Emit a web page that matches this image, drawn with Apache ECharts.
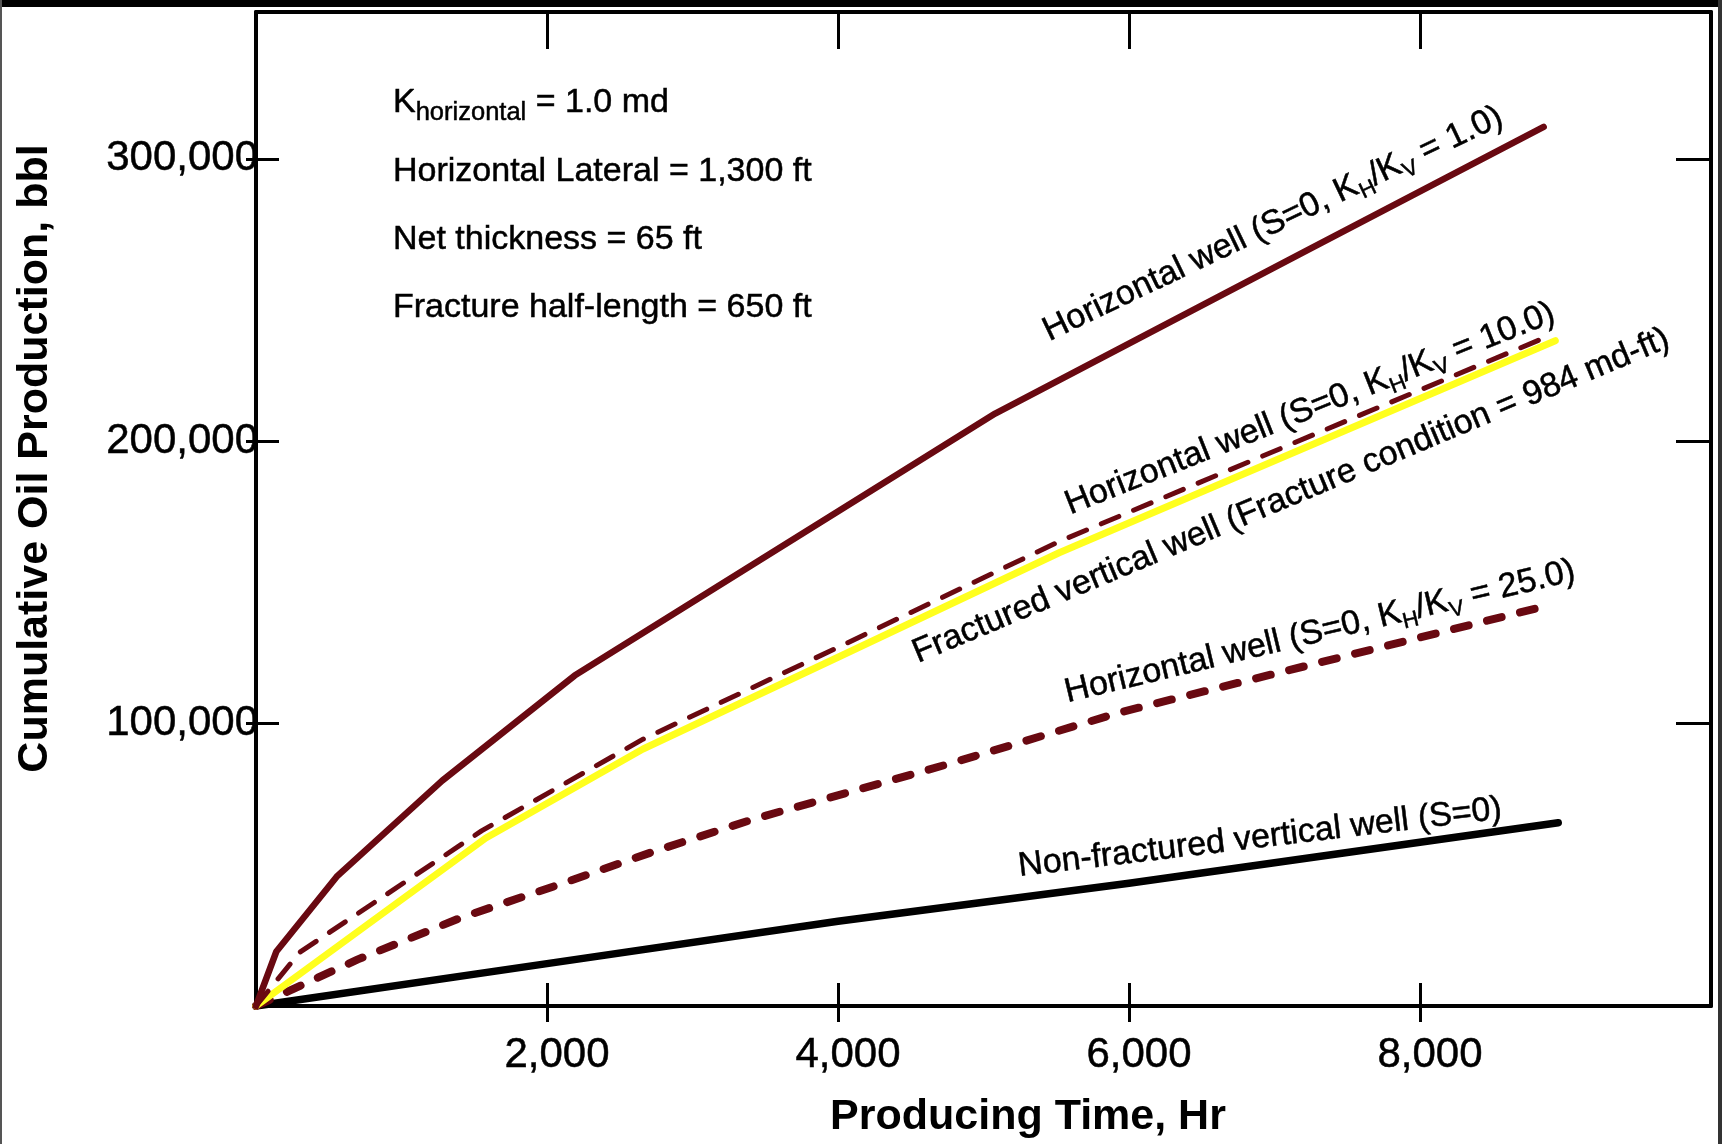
<!DOCTYPE html>
<html><head><meta charset="utf-8">
<script src="https://cdn.jsdelivr.net/npm/echarts@6/dist/echarts.min.js"></script>
<style>html,body{margin:0;padding:0;background:#fff}#c{width:1722px;height:1144px}</style>
</head><body><div id="c"></div>
<script>
// ---- data ----
const xTicks = [2000, 4000, 6000, 8000];
const yTicks = [100000, 200000, 300000];
const hwKv1 = [[0,0],[140,19300],[560,46100],[1280,79800],[2190,117000],[5080,209800],[7220,267500],[8850,311300]];
const hwKv10 = [[0,0],[300,19000],[1550,62000],[2660,94500],[4000,127000],[5520,164500],[8900,237600]];
const fracVert = [[0,0],[1580,59500],[2660,91000],[4000,123500],[5520,160500],[8930,235600]];
const hwKv25 = [[0,0],[700,16500],[1410,31300],[2060,42600],[2750,55000],[3420,66200],[4110,76200],[4800,86300],[5940,104000],[8830,141200]];
const nonFrac = [[0,0],[2000,15000],[4000,30000],[6000,43500],[8950,64900]];
const xAxisTitle = 'Producing Time, Hr';
const yAxisTitle = 'Cumulative Oil Production, bbl';
const lblKv1 = [{t:'Horizontal well (S=0, K'},{t:'H',sub:1},{t:'/K'},{t:'V',sub:1},{t:' = 1.0)'}];
const lblKv10 = [{t:'Horizontal well (S=0, K'},{t:'H',sub:1},{t:'/K'},{t:'V',sub:1},{t:' = 10.0)'}];
const lblFrac = [{t:'Fractured vertical well (Fracture condition = 984 md-ft)'}];
const lblKv25 = [{t:'Horizontal well (S=0, K'},{t:'H',sub:1},{t:'/K'},{t:'V',sub:1},{t:' = 25.0)'}];
const lblNon = [{t:'Non-fractured vertical well (S=0)'}];
const noteK = [{t:'K'},{t:'horizontal',sub:1},{t:' = 1.0 md'}];
const noteLines = ['Horizontal Lateral = 1,300 ft', 'Net thickness = 65 ft', 'Fracture half-length = 650 ft'];

// ---- styling / layout ----
const FONT = '"Liberation Sans", Arial, sans-serif';
const RED = '#690911';
const YEL = '#ffff1e';
const cv = document.createElement('canvas').getContext('2d');
function tw(t, s){ cv.font = s + 'px ' + FONT; return cv.measureText(t).width; }
function textGroup(parts, cx, cy, deg, size, subSize, drop, leftAlign){
  let total = 0; const items = [];
  parts.forEach(p => { const s = p.sub ? subSize : size; items.push({t:p.t, s, off: total, sub: !!p.sub}); total += tw(p.t, s); });
  const start = leftAlign ? 0 : -total / 2;
  return { type:'group', x: cx, y: cy, rotation: deg * Math.PI / 180, silent: true,
    children: items.map(it => ({ type:'text', x: start + it.off, y: it.sub ? (0.3465 * (size - it.s) + drop) : 0,
      style: { text: it.t, font: it.s + 'px ' + FONT, fill: '#000', stroke: '#000', lineWidth: 0.5,
        align:'left', verticalAlign:'middle', textAlign:'left', textVerticalAlign:'middle' } })) };
}

const axLine = { show: true, onZero: false, lineStyle: { color: '#000', width: 4 } };
const tickStyle = { color: '#000', width: 3 };
const xBase = { type:'value', min: 0, max: 10000, splitLine: { show: false } };
const yBase = { type:'value', min: 0, max: 352000, splitLine: { show: false } };
const labelFont = { fontSize: 42, fontFamily: FONT, color:'#000', textBorderColor:'#000', textBorderWidth: 0.5 };
const nameFont = { fontSize: 43, fontWeight:'bold', fontFamily: FONT, color:'#000' };

const graphics = [
  { type:'rect', shape:{x:0,y:0,width:1722,height:7}, style:{fill:'#000'}, silent:true },
  { type:'rect', shape:{x:0,y:0,width:2,height:1144}, style:{fill:'#555'}, silent:true },
  { type:'rect', shape:{x:1718,y:0,width:4,height:1144}, style:{fill:'#333'}, silent:true },
  textGroup(noteK, 393, 102.5, 0, 34, 25.5, 7.4, true),
  textGroup([{t:noteLines[0]}], 393, 171.5, 0, 34, 25, 0, true),
  textGroup([{t:noteLines[1]}], 393, 240, 0, 34, 25, 0, true),
  textGroup([{t:noteLines[2]}], 393, 308, 0, 34, 25, 0, true),
  textGroup(lblKv1, 1273, 224, 25.5, 34, 22, 6, false),
  textGroup(lblKv10, 1310, 409, 21.7, 34, 22, 6, false),
  textGroup(lblFrac, 1291, 496, 22.8, 34, 22, 6, false),
  textGroup(lblKv25, 1320, 632, 13.5, 34, 22, 6, false),
  textGroup(lblNon, 1260, 838, 6.8, 34, 22, 6, false)
];

const chart = echarts.init(document.getElementById('c'), null, { renderer: 'canvas' });
chart.setOption({
  animation: false,
  backgroundColor: '#fff',
  grid: { left: 256, right: 11, top: 12, bottom: 138, containLabel: false },
  xAxis: [
    Object.assign({}, xBase, { position:'bottom', axisLine: axLine,
      axisTick: { show:true, inside:true, length:23, lineStyle: tickStyle, customValues: xTicks },
      axisLabel: Object.assign({ show:true, customValues: xTicks, formatter: v => Number(v).toLocaleString('en-US'),
        margin: 28, padding:[0,0,0,20] }, labelFont),
      name: xAxisTitle, nameLocation:'middle', nameGap: 90,
      nameTextStyle: Object.assign({ padding:[0,0,0,89] }, nameFont) }),
    Object.assign({}, xBase, { position:'bottom', axisLine: { show:false, onZero:false },
      axisTick: { show:true, inside:false, length:16, lineStyle: tickStyle, customValues: xTicks },
      axisLabel: { show:false } }),
    Object.assign({}, xBase, { position:'top', axisLine: axLine,
      axisTick: { show:true, inside:true, length:37, lineStyle: tickStyle, customValues: xTicks },
      axisLabel: { show:false } })
  ],
  yAxis: [
    Object.assign({}, yBase, { position:'left', axisLine: axLine,
      axisTick: { show:true, inside:true, length:23, lineStyle: tickStyle, customValues: yTicks },
      axisLabel: Object.assign({ show:true, customValues: yTicks, formatter: v => Number(v).toLocaleString('en-US'),
        margin: -2 }, labelFont),
      name: yAxisTitle, nameLocation:'middle', nameGap: 199, nameRotate: 90,
      nameTextStyle: Object.assign({ padding:[0,0,0,101] }, nameFont) }),
    Object.assign({}, yBase, { position:'right', axisLine: axLine,
      axisTick: { show:true, inside:true, length:35, lineStyle: tickStyle, customValues: yTicks },
      axisLabel: { show:false } }),
    Object.assign({}, yBase, { position:'left', axisLine: { show:false, onZero:false },
      axisTick: { show:true, inside:false, length:10, lineStyle: tickStyle, customValues: yTicks },
      axisLabel: { show:false } })
  ],
  series: [
    { name:'Non-fractured vertical well (S=0)', type:'line', data: nonFrac, showSymbol:false, symbol:'none',
      lineStyle: { color:'#000', width: 7.5, cap:'round', join:'round' }, z: 2 },
    { name:'Horizontal well KH/KV=25', type:'line', data: hwKv25, showSymbol:false, symbol:'none',
      lineStyle: { color: RED, width: 8, type:[15,19], cap:'round', join:'round' }, z: 3 },
    { name:'Fractured vertical well', type:'line', data: fracVert, showSymbol:false, symbol:'none',
      lineStyle: { color: YEL, width: 7, cap:'round', join:'round' }, z: 4 },
    { name:'Horizontal well KH/KV=10', type:'line', data: hwKv10, showSymbol:false, symbol:'none',
      lineStyle: { color: RED, width: 5, type:[19,16], cap:'round', join:'round' }, z: 5 },
    { name:'Horizontal well KH/KV=1', type:'line', data: hwKv1, showSymbol:false, symbol:'none',
      lineStyle: { color: RED, width: 6.5, cap:'round', join:'round' }, z: 6 }
  ],
  graphic: graphics
});
</script></body></html>
